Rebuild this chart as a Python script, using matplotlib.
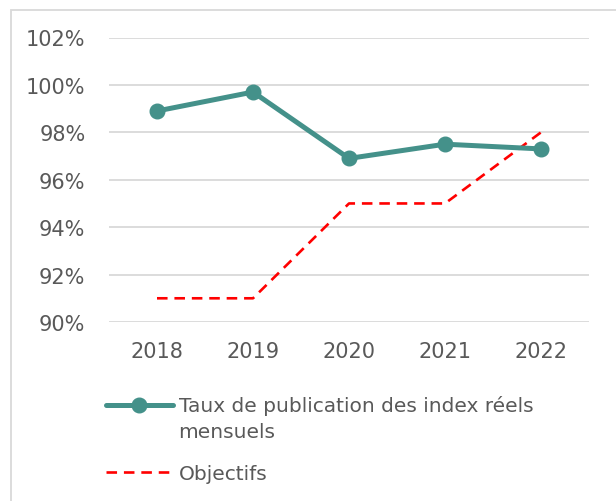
import matplotlib
matplotlib.use("Agg")
import matplotlib.pyplot as plt
from matplotlib.patches import Rectangle
from matplotlib.ticker import PercentFormatter
from matplotlib.legend_handler import HandlerLine2D

# Données
annees = ["2018", "2019", "2020", "2021", "2022"]
taux_publication = [98.9, 99.7, 96.9, 97.5, 97.3]
objectifs = [91, 91, 95, 95, 98]
y_ticks = [90, 92, 94, 96, 98, 100, 102]

plt.rcParams["font.family"] = ["DejaVu Sans"]


# poignée de légende alignée sur la première ligne du libellé
class HandlerPremiereLigne(HandlerLine2D):
    def create_artists(self, legend, orig_handle, xdescent, ydescent,
                       width, height, fontsize, trans):
        artists = super().create_artists(legend, orig_handle, xdescent, ydescent,
                                         width, height, fontsize, trans)
        for a in artists:
            a.set_ydata([y + 0.66 * fontsize for y in a.get_ydata()])
        return artists


fig = plt.figure(figsize=(6.16, 5.02), dpi=100)
ax = fig.add_axes([109 / 616, 1 - 323 / 502, 480 / 616, (323 - 38.5) / 502])

x = range(len(annees))
l1, = ax.plot(x, taux_publication, color="#44918A", lw=3.6, marker="o", ms=10.5,
              solid_capstyle="round", label="Taux de publication des index réels\nmensuels", zorder=3)
l2, = ax.plot(x, objectifs, color="#FF0000", lw=1.9, dashes=(4, 2.6),
              label="Objectifs", zorder=2)

ax.set_xlim(-0.5, len(annees) - 0.5)
ax.set_ylim(90, 102)
ax.set_yticks(y_ticks)
ax.yaxis.set_major_formatter(PercentFormatter(decimals=0))
ax.set_xticks(list(x))
ax.set_xticklabels(annees)
ax.tick_params(axis="both", length=0, labelsize=15, labelcolor="#595959")
ax.tick_params(axis="y", pad=17)
ax.tick_params(axis="x", pad=14)
ax.grid(axis="y", color="#D9D9D9", lw=1.3)
ax.set_axisbelow(True)
for s in ax.spines.values():
    s.set_visible(False)

leg = fig.legend(loc="upper left", bbox_to_anchor=(88 / 616, 1 - 378 / 502),
                 frameon=False, fontsize=14.5, handlelength=3.3, handletextpad=0.3,
                 labelspacing=1.15, labelcolor="#595959",
                 handler_map={l1: HandlerPremiereLigne()})
for t in leg.get_texts():
    t.set_linespacing(1.45)

# cadre du graphique
fig.patches.append(Rectangle((10.5 / 616, -0.1), 2, 1.1 - 10.5 / 502,
                             transform=fig.transFigure, fill=False,
                             edgecolor="#D9D9D9", lw=1.3))

fig.savefig("out.png", dpi=100)
